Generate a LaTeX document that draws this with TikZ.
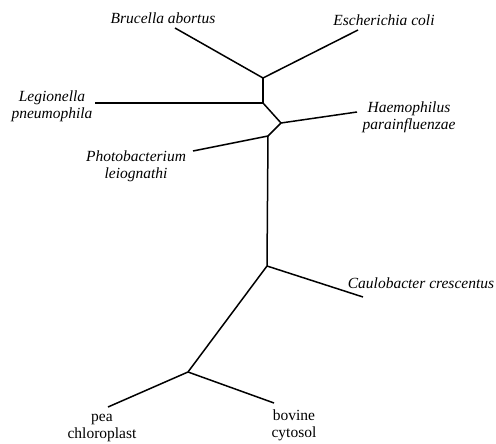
\documentclass[tikz,border=0pt]{standalone}
\usepackage{fontspec}
\setmainfont{Liberation Serif}
\usetikzlibrary{positioning}

\begin{document}
\begin{tikzpicture}[x=1pt,y=-1pt]
\tikzset{
  taxon/.style={inner sep=0pt,align=center,font=\fontsize{15.5}{17}\selectfont\itshape},
  plain/.style={inner sep=0pt,align=center,font=\fontsize{15.5}{17}\selectfont},
  branch/.style={line width=1.5pt,line join=round}
}
\useasboundingbox (0,0) rectangle (496,444);
% inner nodes of the tree
\coordinate (j_1) at (263,78);
\coordinate (j_2) at (263,103);
\coordinate (j_3) at (281,123);
\coordinate (j_4) at (268,136);
\coordinate (j_5) at (267,266);
\coordinate (j_6) at (188,372);
% branch tips
\coordinate (t_bru) at (175,28);
\coordinate (t_esc) at (358,30);
\coordinate (t_leg) at (95,103);
\coordinate (t_hae) at (357,112);
\coordinate (t_pho) at (193,151);
\coordinate (t_cau) at (363,297);
\coordinate (t_pea) at (108,407);
\coordinate (t_bov) at (274,403);
% labels
\node[taxon] (n_bru) at (163,18) {Brucella abortus};
\node[taxon] (n_esc) at (384,20) {Escherichia coli};
\node[taxon] (n_leg) at (52,106) {Legionella\\pneumophila};
\node[taxon] (n_hae) at (409,117) {Haemophilus\\parainfluenzae};
\node[taxon] (n_pho) at (136,166) {Photobacterium\\leiognathi};
\node[taxon] (n_cau) at (421,283) {Caulobacter crescentus};
\node[plain] (n_pea) at (102,428) {pea\\chloroplast};
\node[plain] (n_bov) at (294,425) {bovine\\cytosol};
% branches
\draw[branch] (t_bru) -- (j_1) -- (t_esc);
\draw[branch] (j_1) -- (j_2) -- (t_leg);
\draw[branch] (j_2) -- (j_3) -- (t_hae);
\draw[branch] (j_3) -- (j_4) -- (t_pho);
\draw[branch] (j_4) -- (j_5) -- (t_cau);
\draw[branch] (j_5) -- (j_6) -- (t_pea);
\draw[branch] (j_6) -- (t_bov);
\end{tikzpicture}
\end{document}
